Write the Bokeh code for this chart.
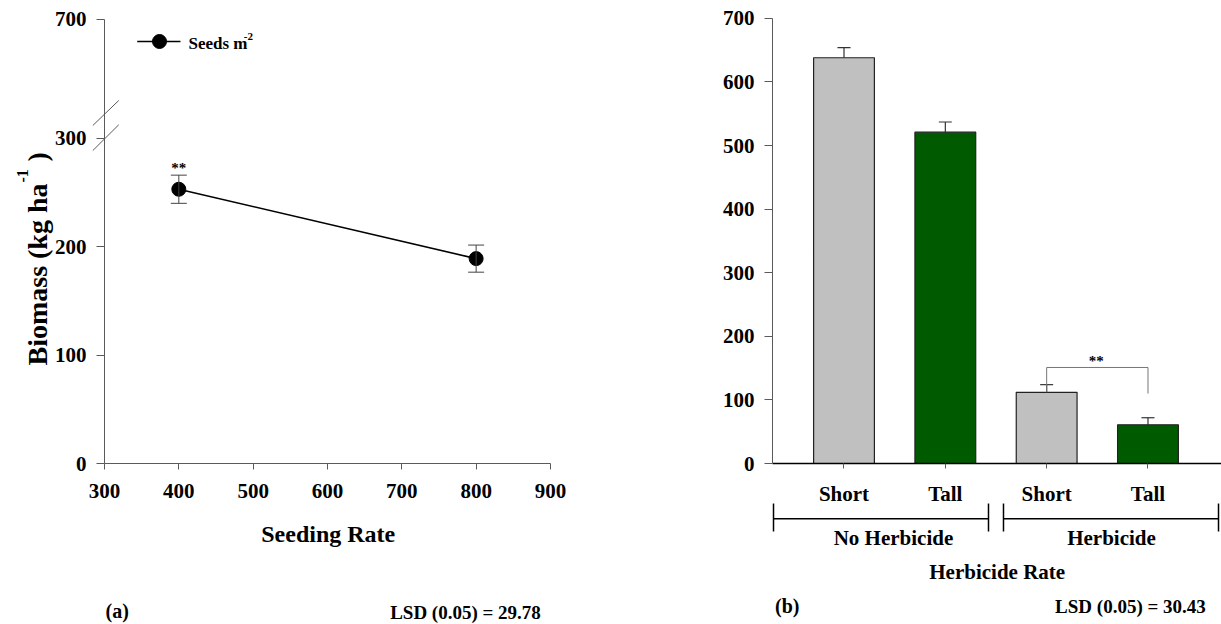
import math
from bokeh.plotting import figure
from bokeh.layouts import row
from bokeh.models import Range1d, LinearAxis, FixedTicker, ColumnDataSource, Whisker, TeeHead
from bokeh.core.properties import value
from bokeh.embed import file_html
from bokeh.resources import INLINE

# ---------------- data: panel (a) ----------------
seeding_rate = [400, 800]
biomass_a = [253, 189]
err_a = [13, 12.5]
x_ticks_a = [300, 400, 500, 600, 700, 800, 900]
y_ticks_a = [0, 100, 200, 300]
y_break_tick = 410          # position on the broken axis that carries the "700" label
y_break_label = "700"
lsd_a = "LSD (0.05) = 29.78"

# ---------------- data: panel (b) ----------------
heights = ["Short", "Tall", "Short", "Tall"]
groups = ["No Herbicide", "Herbicide"]
biomass_b = [638, 521, 112, 61]
err_b = [16, 16, 12, 11]
bar_colors = ["#C0C0C0", "#005A00", "#C0C0C0", "#005A00"]
y_ticks_b = [0, 100, 200, 300, 400, 500, 600, 700]
lsd_b = "LSD (0.05) = 30.43"

FONT = "Liberation Serif"
AXC = "#5a5a5a"


def style_axis(ax, size, tick_out, standoff):
    ax.axis_line_color = AXC
    ax.major_tick_line_color = AXC
    ax.major_tick_out = tick_out
    ax.major_tick_in = 0
    ax.minor_tick_out = 0
    ax.minor_tick_in = 0
    ax.major_label_text_font = FONT
    ax.major_label_text_font_style = "bold"
    ax.major_label_text_font_size = size
    ax.major_label_text_color = "black"
    ax.major_label_standoff = standoff


def txt(p, x, y, t, size, align="center", baseline="middle", angle=0.0, style="bold"):
    p.text(x=[x], y=[y], text=[t], text_font=value(FONT), text_font_style=style,
           text_font_size=size, text_align=align, text_baseline=baseline,
           angle=angle, text_color="black")


# ================= panel (a) =================
pa = figure(width=650, height=624, x_range=Range1d(160.08, 1034.6),
            y_range=Range1d(-148.5, 427.1), x_axis_type=None, y_axis_type=None,
            toolbar_location=None, output_backend="svg", min_border=0,
            outline_line_color=None)

xa = LinearAxis(fixed_location=0, bounds=(300, 900), ticker=FixedTicker(ticks=x_ticks_a))
style_axis(xa, "21px", 6, 14)
pa.add_layout(xa, "below")

ya = LinearAxis(fixed_location=300, bounds=(0, y_break_tick),
                ticker=FixedTicker(ticks=y_ticks_a + [y_break_tick]))
ya.major_label_overrides = {y_break_tick: y_break_label}
style_axis(ya, "21px", 8, 10)
pa.add_layout(ya, "left")

# axis break marks
pa.segment(x0=[284.3, 284.3], y0=[311.8, 288.7], x1=[319.2, 319.2], y1=[334.9, 312.5],
           line_color=AXC, line_width=1)

# series
pa.line(seeding_rate, biomass_a, line_color="black", line_width=1.6)
src_a = ColumnDataSource(dict(base=seeding_rate,
                              lower=[b - e for b, e in zip(biomass_a, err_a)],
                              upper=[b + e for b, e in zip(biomass_a, err_a)]))
pa.add_layout(Whisker(base="base", lower="lower", upper="upper", source=src_a,
                      line_color="#444444", line_width=1,
                      upper_head=TeeHead(size=16, line_color="#444444", line_width=1),
                      lower_head=TeeHead(size=16, line_color="#444444", line_width=1),
                      level="glyph"))
pa.scatter(seeding_rate, biomass_a, size=14, color="black")
txt(pa, seeding_rate[0], 273, "**", "15px")

# legend (manual, for the superscript)
pa.line([344, 402.2], [389.3, 389.3], line_color="black", line_width=1.6)
pa.scatter([374], [389.3], size=14, color="black")
txt(pa, 413, 387.3, "Seeds m", "17px", align="left", baseline="alphabetic")
txt(pa, 487.5, 394.0, "-2", "11px", align="left", baseline="alphabetic")

# axis title (rotated, with superscript)
txt(pa, 209.9, 258.3, "Biomass (kg ha", "28px", align="right", baseline="alphabetic",
    angle=math.pi / 2)
txt(pa, 190.0, 259.2, "-1", "16px", align="left", baseline="alphabetic", angle=math.pi / 2)
txt(pa, 209.9, 278.6, ")", "28px", align="left", baseline="alphabetic", angle=math.pi / 2)

txt(pa, 601, -65.3, "Seeding Rate", "24px")
txt(pa, 317.1, -136.5, "(a)", "20px")
txt(pa, 785.7, -137.5, lsd_a, "19px")

# ================= panel (b) =================
pb = figure(width=571, height=624, x_range=Range1d(-0.9096, 4.7255),
            y_range=Range1d(-253.1, 728.0), x_axis_type=None, y_axis_type=None,
            toolbar_location=None, output_backend="svg", min_border=0,
            outline_line_color=None)

xpos = list(range(1, len(heights) + 1))
pb.vbar(x=xpos, top=biomass_b, width=0.6, fill_color=bar_colors,
        line_color="#222222", line_width=1.2)

src_b = ColumnDataSource(dict(base=xpos, lower=biomass_b,
                              upper=[b + e for b, e in zip(biomass_b, err_b)]))
pb.add_layout(Whisker(base="base", lower="lower", upper="upper", source=src_b,
                      line_color="#333333", line_width=1.2,
                      upper_head=TeeHead(size=13, line_color="#333333", line_width=1.2),
                      lower_head=None))

xb = LinearAxis(fixed_location=0, bounds=(0.2944, 4.7255), ticker=FixedTicker(ticks=xpos))
xb.major_label_overrides = {i + 1: h for i, h in enumerate(heights)}
style_axis(xb, "21px", 5, 13)
xb.axis_line_color = "black"
xb.axis_line_width = 1.6
pb.add_layout(xb, "below")

yb = LinearAxis(fixed_location=0.2944, bounds=(0, 700), ticker=FixedTicker(ticks=y_ticks_b))
style_axis(yb, "21px", 8, 10)
pb.add_layout(yb, "left")

# significance bracket between the herbicide bars
pb.line([3, 3, 4, 4], [biomass_b[2], 151, 151, 110], line_color="#777777", line_width=1)
txt(pb, 3.49, 161, "**", "15px")

# group brackets below the axis
pb.segment(x0=[0.3043, 2.574], y0=[-86.9, -86.9], x1=[2.426, 4.696], y1=[-86.9, -86.9],
           line_color="black", line_width=1.5)
pb.segment(x0=[0.3043, 2.426, 2.574, 4.696], y0=[-62.9] * 4,
           x1=[0.3043, 2.426, 2.574, 4.696], y1=[-106.9] * 4,
           line_color="black", line_width=1.5)
txt(pb, 1.488, -116.4, groups[0], "21px")
txt(pb, 3.640, -116.4, groups[1], "21px")
txt(pb, 2.512, -170.9, "Herbicide Rate", "21px")
txt(pb, 0.44, -224.0, "(b)", "20px")
txt(pb, 3.827, -225.0, lsd_b, "19px")

layout = row(pa, pb)
open("out.html", "w").write(file_html(layout, INLINE))
